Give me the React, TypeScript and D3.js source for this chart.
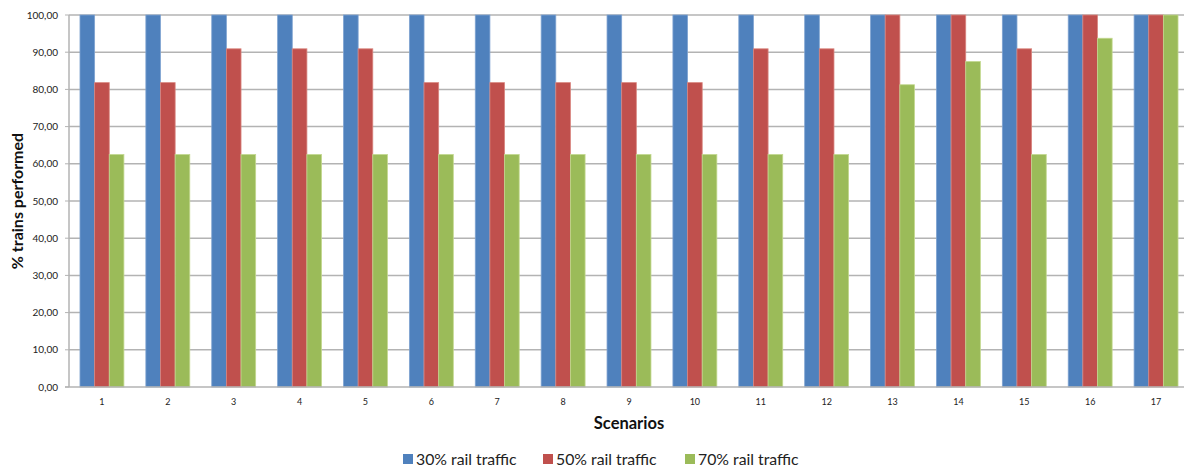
import { useEffect } from 'react';
import * as d3 from 'd3';

const SCENARIOS = ['1', '2', '3', '4', '5', '6', '7', '8', '9', '10', '11', '12', '13', '14', '15', '16', '17'];
const RAIL_30 = [100, 100, 100, 100, 100, 100, 100, 100, 100, 100, 100, 100, 100, 100, 100, 100, 100];
const RAIL_50 = [81.82, 81.82, 90.91, 90.91, 90.91, 81.82, 81.82, 81.82, 81.82, 81.82, 90.91, 90.91, 100, 100, 90.91, 100, 100];
const RAIL_70 = [62.5, 62.5, 62.5, 62.5, 62.5, 62.5, 62.5, 62.5, 62.5, 62.5, 62.5, 62.5, 81.25, 87.5, 62.5, 93.75, 100];
const SERIES = [
  { name: '30% rail traffic', values: RAIL_30, color: '#4F81BD', edge: '#7fa3d1' },
  { name: '50% rail traffic', values: RAIL_50, color: '#C0504D', edge: '#d9857f' },
  { name: '70% rail traffic', values: RAIL_70, color: '#9BBB59', edge: '#c3d88f' },
];
const Y_TICKS = [0, 10, 20, 30, 40, 50, 60, 70, 80, 90, 100];

const W = 1184, H = 468;
const M = { left: 69, right: 1189, top: 15, bottom: 387 };
const FONT = 'Lato, "Open Sans", sans-serif';
const fmt = (v: number) => v.toFixed(2).replace('.', ',');

export default function App() {
  useEffect(() => {
    document.body.style.margin = '0';
  }, []);

  const x = d3.scaleBand<string>().domain(SCENARIOS).range([M.left, M.right]).paddingInner(0).paddingOuter(0);
  const bw = x.bandwidth() / 4.5;
  const y = d3.scaleLinear().domain([0, 100]).range([M.bottom, M.top]);

  const legendX = [403, 543, 685];

  return (
    <svg width={W} height={H} style={{ display: 'block', fontFamily: FONT }}>
      <rect width={W} height={H} fill="#fff" />
      {Y_TICKS.map(t => (
        <g key={t}>
          {t > 0 && <line x1={M.left} x2={M.right} y1={y(t)} y2={y(t)} stroke="#b3b3b3" strokeWidth={1.5} />}
          <line x1={M.left - 4} x2={M.left} y1={y(t)} y2={y(t)} stroke="#b3b3b3" strokeWidth={1} />
          <text x={M.left - 11} y={y(t) + 3.5} textAnchor="end" fontSize={10} fill="#222">{fmt(t)}</text>
        </g>
      ))}

      {SCENARIOS.map((s, i) => (
        <g key={s}>
          {SERIES.map((ser, j) => {
            const bx = x(s)! + bw * 0.75 + j * bw;
            return (
              <rect key={ser.name} x={bx} y={y(ser.values[i])} width={bw} height={y(0) - y(ser.values[i])}
                fill={ser.color} stroke={ser.edge} strokeWidth={0.8} />
            );
          })}
          <text x={x(s)! + x.bandwidth() / 2} y={405} textAnchor="middle" fontSize={9} fill="#222">{s}</text>
        </g>
      ))}

      <line x1={M.left} x2={M.left} y1={M.top} y2={M.bottom} stroke="#b3b3b3" strokeWidth={1.5} />
      <line x1={M.left - 4} x2={M.right} y1={M.bottom} y2={M.bottom} stroke="#b3b3b3" strokeWidth={1.5} />

      <text x={(M.left + M.right) / 2} y={429} textAnchor="middle" fontSize={16.5} fontWeight="bold" fill="#111">Scenarios</text>
      <text transform={`translate(23,${(M.top + M.bottom) / 2}) rotate(-90)`} textAnchor="middle" fontSize={16} fontWeight="bold" fill="#111">% trains performed</text>

      {SERIES.map((ser, j) => (
        <g key={ser.name}>
          <rect x={legendX[j]} y={454} width={10} height={10} fill={ser.color} />
          <text x={legendX[j] + 13} y={464.5} fontSize={15.8} fill="#222">{ser.name}</text>
        </g>
      ))}
    </svg>
  );
}
